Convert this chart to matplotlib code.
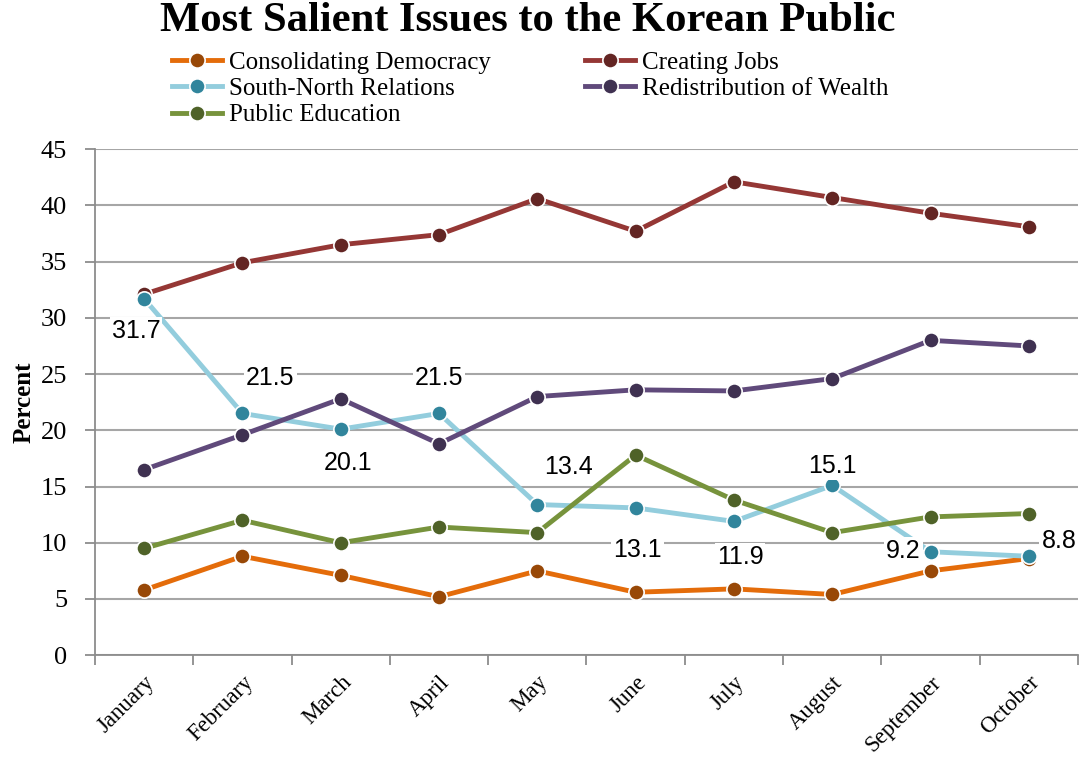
import numpy as np
import matplotlib.pyplot as plt

# data
months = ['January', 'February', 'March', 'April', 'May', 'June',
          'July', 'August', 'September', 'October']
democracy = [5.8, 8.8, 7.1, 5.2, 7.5, 5.6, 5.9, 5.4, 7.5, 8.6]
jobs = [32.1, 34.9, 36.5, 37.4, 40.6, 37.7, 42.1, 40.7, 39.3, 38.1]
south_north = [31.7, 21.5, 20.1, 21.5, 13.4, 13.1, 11.9, 15.1, 9.2, 8.8]
wealth = [16.5, 19.6, 22.8, 18.8, 23.0, 23.6, 23.5, 24.6, 28.0, 27.5]
education = [9.5, 12.0, 10.0, 11.4, 10.9, 17.8, 13.8, 10.9, 12.3, 12.6]

serif = ['Liberation Serif', 'DejaVu Serif']
sans = ['Liberation Sans', 'DejaVu Sans']

fig = plt.figure(figsize=(10.83, 7.61), dpi=100)
ax = fig.add_axes([0.0877, 0.139, 0.9077, 0.665])

x = np.arange(len(months))
series = [
    ('Consolidating Democracy', democracy, '#E46C0A', '#984807'),
    ('Creating Jobs', jobs, '#953735', '#632523'),
    ('South-North Relations', south_north, '#93CDDD', '#31859C'),
    ('Redistribution of Wealth', wealth, '#604A7B', '#3F3151'),
    ('Public Education', education, '#77933C', '#4F6228'),
]
handles = {}
for name, vals, lc, mc in series:
    h, = ax.plot(x, vals, color=lc, lw=3.5, marker='o', ms=11,
                 markerfacecolor=mc, markeredgecolor='white', markeredgewidth=1.2,
                 label=name, zorder=3)
    handles[name] = h

# labels on the South-North series (offsets in pixels)
offs = [(-8, -32), (28, 35), (7, -34), (0, 35), (31, 38),
        (2, -42), (6, -36), (0, 19), (-27, 1), (30, 15)]
for i, v in enumerate(south_north):
    ax.annotate('%.1f' % v, (x[i], v), xytext=offs[i], textcoords='offset pixels',
                ha='center', va='center', fontsize=18, family=sans,
                bbox=dict(facecolor='white', edgecolor='none', pad=1.5), zorder=4)

ax.set_xlim(-0.5, 9.5)
ax.set_ylim(0, 45)
ax.set_yticks(range(0, 46, 5))
ax.set_xticks(x)
ax.set_xticks(np.arange(-0.5, 10, 1), minor=True)
ax.tick_params(axis='x', which='major', length=0, pad=12)
ax.tick_params(axis='x', which='minor', length=7, color='#8C8C8C', width=1.3)
ax.tick_params(axis='y', length=7, color='#8C8C8C', width=1.3, pad=13)
ax.set_xticklabels(months, rotation=45, ha='right', rotation_mode='anchor',
                   fontsize=16.5, family=serif)
for t in ax.get_yticklabels():
    t.set_fontsize(19)
    t.set_family(serif)
ax.yaxis.grid(True, color='#A6A6A6', lw=1.5)
ax.set_axisbelow(True)
for s in ['top', 'right']:
    ax.spines[s].set_visible(False)
for s in ['left', 'bottom']:
    ax.spines[s].set_color('#8C8C8C')
    ax.spines[s].set_linewidth(1.3)
ax.set_ylabel('Percent', fontsize=18, fontweight='bold', family=serif, labelpad=4)

fig.suptitle('Most Salient Issues to the Korean Public', x=0.487, y=0.998,
             fontsize=30.7, fontweight='bold', family=serif)
order = ['Consolidating Democracy', 'South-North Relations', 'Public Education',
         'Creating Jobs', 'Redistribution of Wealth']
ax.legend([handles[n] for n in order], order, loc='upper left',
          bbox_to_anchor=(0.068, 1.213), ncol=2, frameon=False,
          prop={'family': serif, 'size': 18}, handlelength=2.0, handletextpad=0.3,
          columnspacing=3.75, labelspacing=0.15, borderaxespad=0)

fig.savefig('out.png', dpi=100)
